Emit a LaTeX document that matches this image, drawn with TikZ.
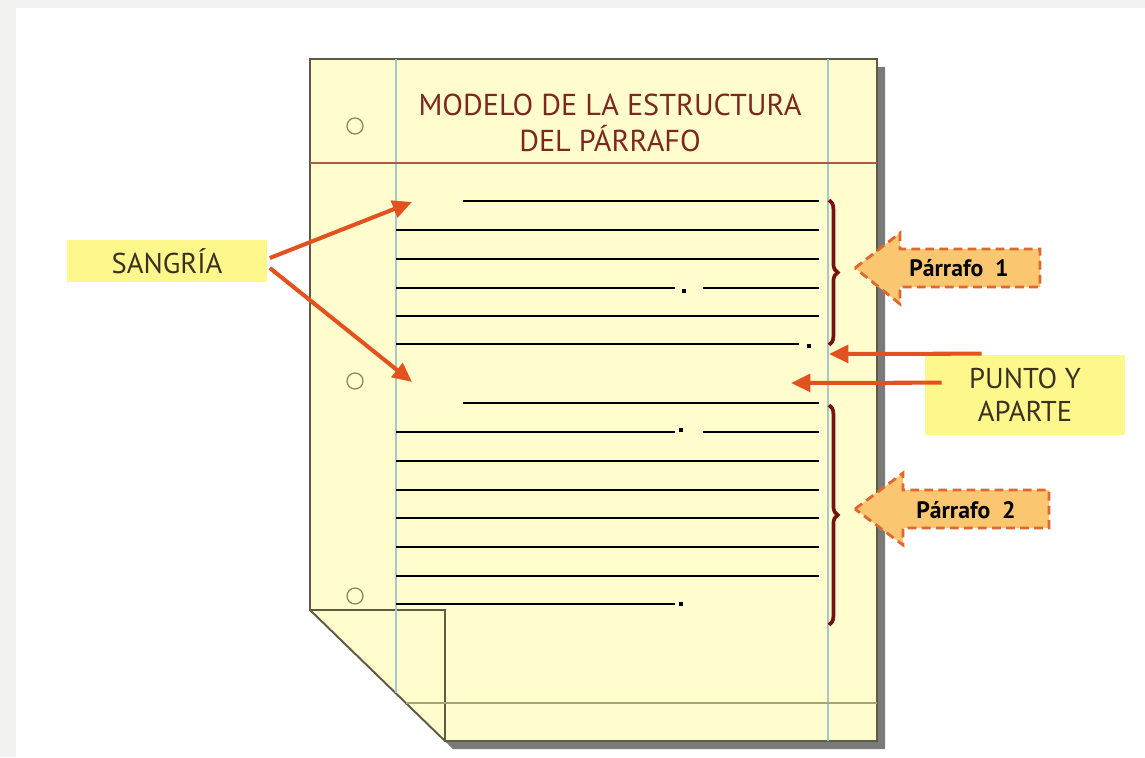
\documentclass[tikz,border=0pt]{standalone}
\usepackage{fontspec}
\setmainfont{PT Sans}
\usepackage{tikz}
\usetikzlibrary{arrows.meta}
\usetikzlibrary{calc}
\usetikzlibrary{decorations.pathreplacing}
\definecolor{backgray}{RGB}{242,242,240}
\definecolor{paper}{RGB}{255,252,206}
\definecolor{frame}{RGB}{92,92,68}
\definecolor{margin}{RGB}{165,200,205}
\definecolor{headline}{RGB}{170,90,70}
\definecolor{footline}{RGB}{170,165,110}
\definecolor{titlered}{RGB}{125,40,28}
\definecolor{bracered}{RGB}{120,18,18}
\definecolor{pointer}{RGB}{226,82,30}
\definecolor{labelbg}{RGB}{253,247,140}
\definecolor{calloutbg}{RGB}{251,198,112}
\definecolor{calloutrim}{RGB}{222,104,48}
\definecolor{labeltext}{RGB}{60,48,32}
\tikzset{
	writing/.style={line width=0.85pt, black},
	pointer/.style={draw=pointer, line width=2.3pt, -{Triangle[length=11pt,width=10pt]}},
	tag/.style={fill=labelbg, text=labeltext, font=\fontsize{16.3}{19}\selectfont, align=center, inner sep=0pt},
	callout/.style={fill=calloutbg, draw=calloutrim, dashed, dash pattern=on 5pt off 3pt, line width=1.6pt, line join=miter},
	callouttext/.style={font=\fontsize{13.5}{16}\selectfont\bfseries, text=black},
	hole/.style={draw=footline!80!black, line width=0.7pt},
	parbrace/.style={draw=bracered, line width=2.1pt, decorate, decoration={brace, amplitude=5pt}},
}
\newcommand{\fullstop}[1]{\fill (#1) ++(-2.2,-2.2) rectangle ++(4.4,4.4);} % square period
\begin{document}
\begin{tikzpicture}[x=0.02cm, y=-0.02cm]
	\useasboundingbox (0,0) rectangle (1145,757);
	\fill[backgray] (0,0) rectangle (1145,757);
	\fill[white] (16,8) rectangle (1145,757);

	% sheet with shadow and folded corner
	\fill[black!52] (318,67) -- (885,67) -- (885,749) -- (453,749) -- (318,618) -- cycle;
	\filldraw[fill=paper, draw=frame, line width=1.1pt] (310,59) -- (877,59) -- (877,741) -- (445,741) -- (310,610) -- cycle;
	\draw[frame, line width=1.1pt] (310,610) -- (445,610) -- (445,741);
	\draw[margin, line width=0.6pt] (396,59) -- (396,693);
	\draw[margin, line width=0.6pt] (828,59) -- (828,741);
	\draw[headline, line width=0.6pt] (310,163) -- (877,163);
	\draw[footline, line width=0.7pt] (406,703) -- (877,703);
	\draw[hole] (355,126) circle (8);
	\draw[hole] (355,381) circle (8);
	\draw[hole] (355,596) circle (8);

	\node[text=titlered, font=\fontsize{17.2}{20.5}\selectfont, align=center] (title) at (610,123)
		{MODELO DE LA ESTRUCTURA\\DEL PÁRRAFO};

	% first paragraph
	\draw[writing] (463,201) -- (819,201);
	\foreach \y in {230,259,316}
		\draw[writing] (396,\y) -- (819,\y);
	\draw[writing] (396,288) -- (675,288);
	\draw[writing] (703,288) -- (819,288);
	\fullstop{684,291}
	\draw[writing] (396,344) -- (799,344);
	\fullstop{809,346}

	% second paragraph
	\draw[writing] (463,403) -- (819,403);
	\draw[writing] (396,432) -- (675,432);
	\draw[writing] (703,432) -- (819,432);
	\fullstop{681,430}
	\foreach \y in {461,490,518,547,576}
		\draw[writing] (396,\y) -- (819,\y);
	\draw[writing] (396,604) -- (675,604);
	\fullstop{681,604}

	% braces
	\draw[parbrace] (829,200) -- (829,345);
	\draw[parbrace] (829,405) -- (829,625);

	% callouts
	\draw[callout] (855,268) -- (900,233) -- (900,249) -- (1040,249) -- (1040,287) -- (900,287) -- (900,304) -- cycle;
	\node[callouttext] (par1) at (959,268) {Párrafo\enspace 1};
	\draw[callout] (855,509) -- (903,473) -- (903,490) -- (1049,490) -- (1049,528) -- (903,528) -- (903,545) -- cycle;
	\node[callouttext] (par2) at (966,510) {Párrafo\enspace 2};

	% labels
	\node[tag, minimum width=4.02cm, minimum height=0.86cm] (sang) at (167,261) {SANGRÍA};
	\node[tag, minimum width=4cm, minimum height=1.6cm] (pya) at (1025,395) {PUNTO Y\\APARTE};

	% pointers
	\coordinate (ind1) at (412,202);
	\coordinate (ind2) at (412,382);
	\coordinate (dot1) at (829,354);
	\coordinate (gap1) at (791,383);
	\draw[pointer] ($(sang.east)+(2,-3)$) -- (ind1);
	\draw[pointer] ($(sang.east)+(2,7)$) -- (ind2);
	\draw[pointer] ($(pya.north west)+(57,-1)$) -- (dot1);
	\draw[pointer] ($(pya.north west)+(17,28)$) -- (gap1);
\end{tikzpicture}
\end{document}
